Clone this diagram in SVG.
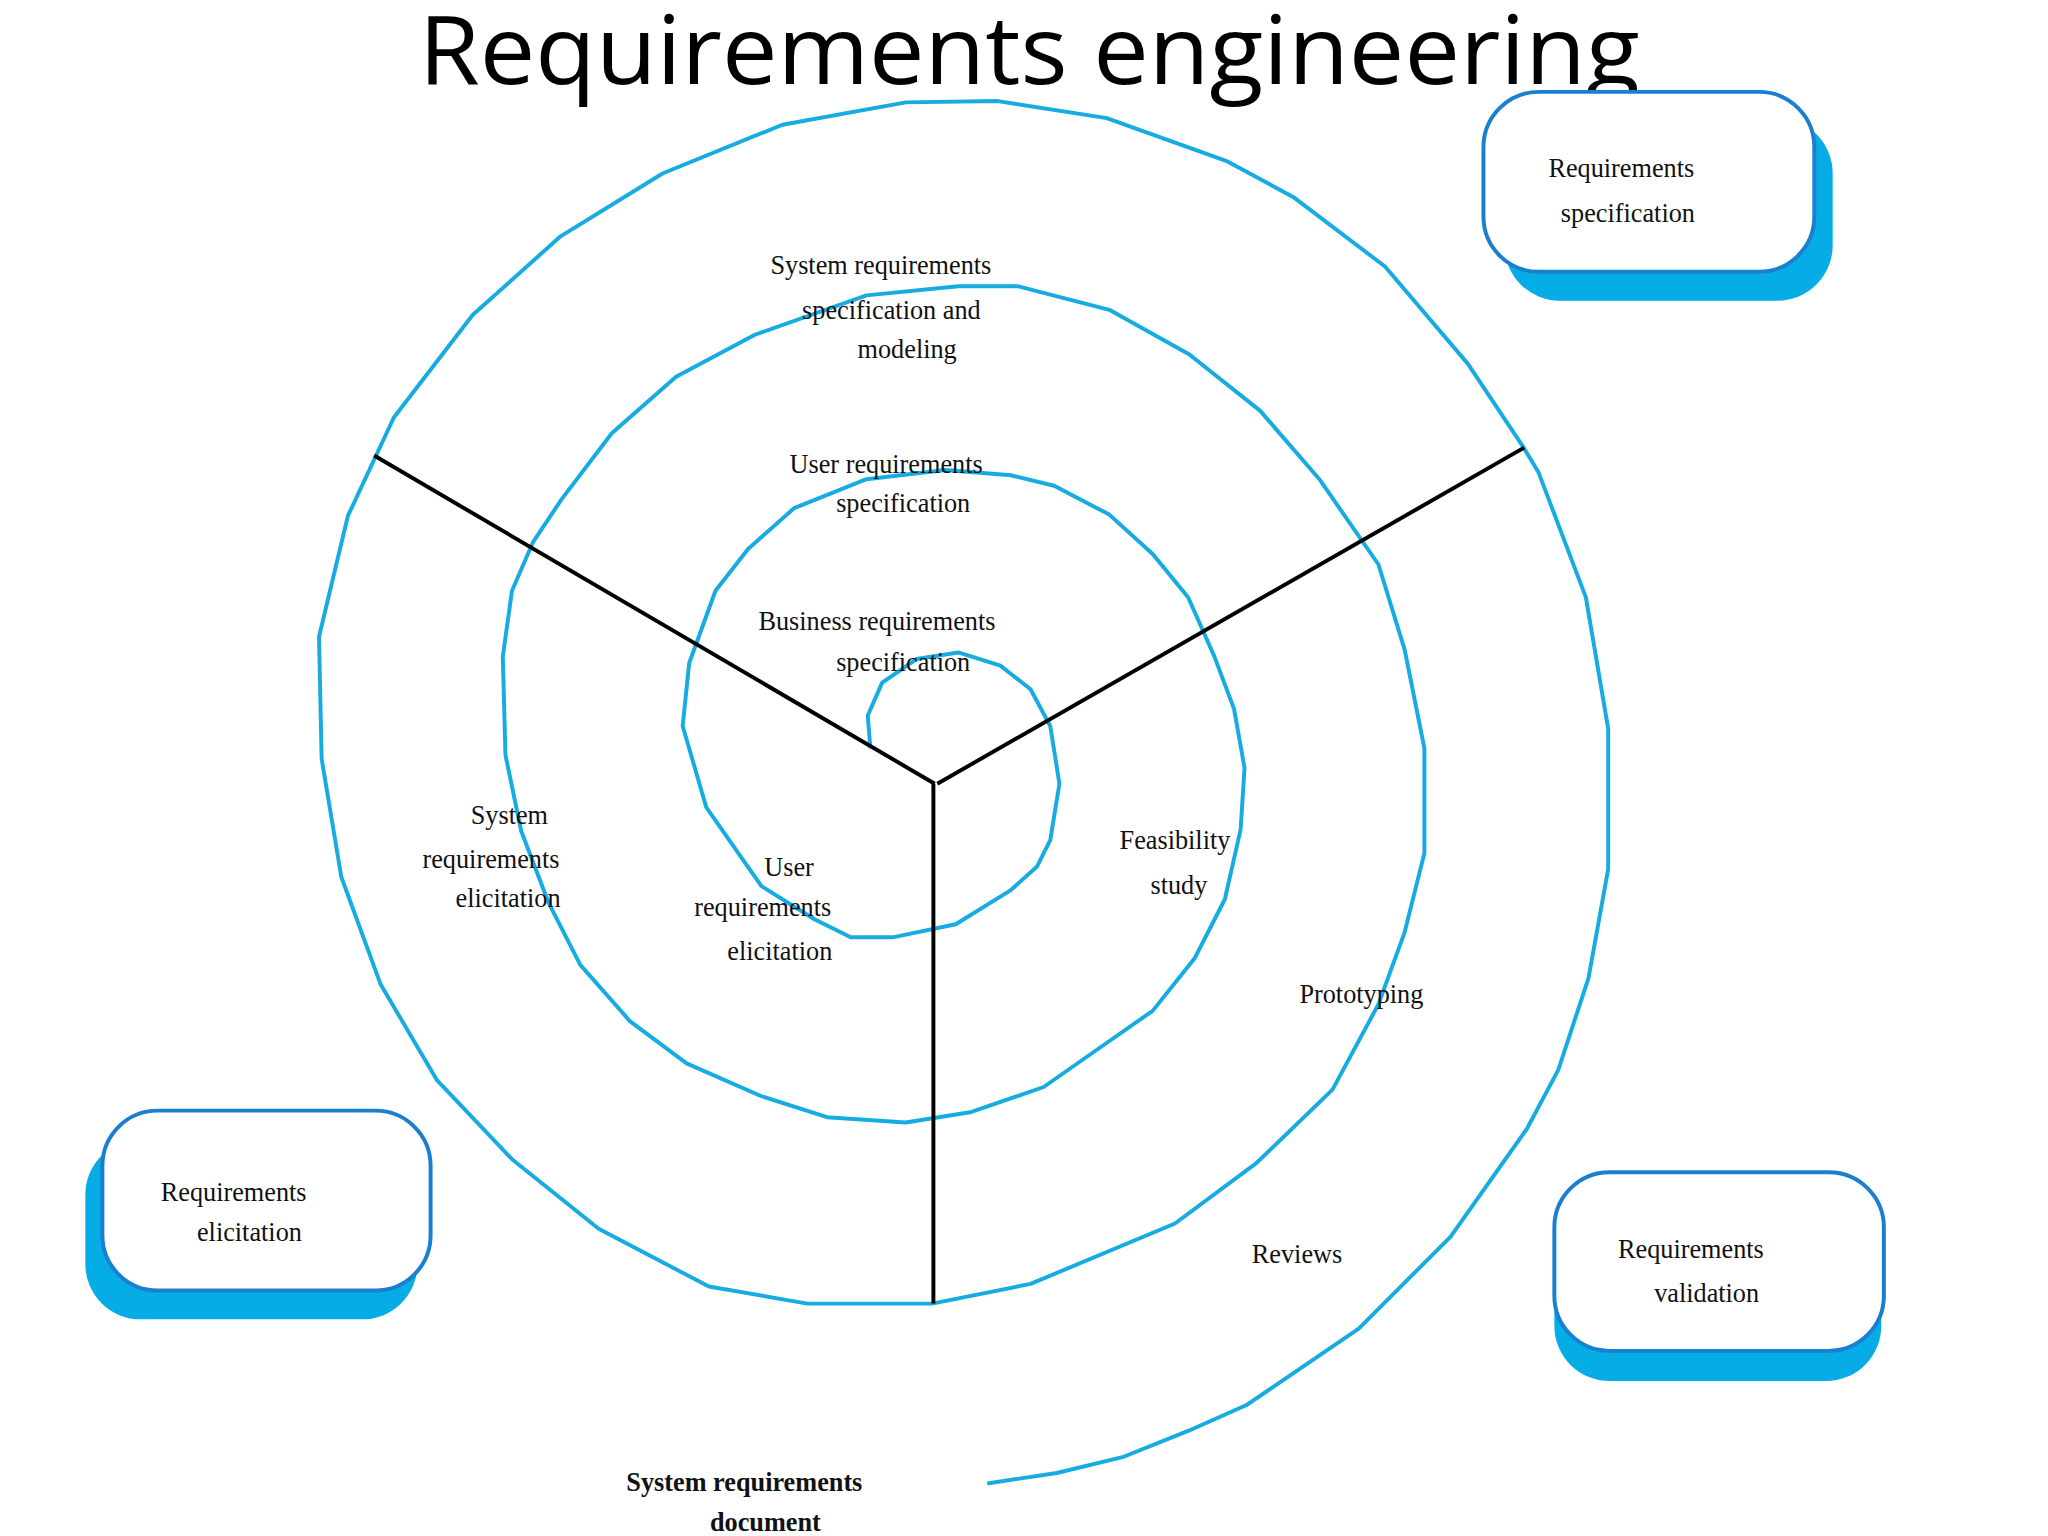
<svg xmlns="http://www.w3.org/2000/svg" width="2048" height="1536" viewBox="0 0 2048 1536">
<style>
.sp{fill:none;stroke:#16ace2;stroke-width:3;stroke-linejoin:round}
.spoke{stroke:#000;stroke-width:3}
.lb{font-family:"Liberation Serif",serif;font-size:20px;fill:#111;text-anchor:middle}
.bx{fill:#fff;stroke:#1a7fd0;stroke-width:3}
.sh{fill:#05ace6}
</style>
<rect width="2048" height="1536" fill="#fff"/>
<g transform="scale(1.3128)">
<text x="784" y="64" font-family="Open Sans, sans-serif" font-size="72" text-anchor="middle" textLength="930" lengthAdjust="spacingAndGlyphs">Requirements engineering</text>
<g id="connectors">
<path class="sp" d="M663,570 L661,545 672,520 698,502 730,497 762,507 785,525 800,553 807,597 800,640 790,660 770,678 728,704 680,714 648,714 620,700 580,675 538,615 520,553 525,505 545,450 570,418 605,387 660,365 720,358 770,362 803,370 845,392 878,422 905,455 925,500 940,540 948,585 945,632 933,685 910,730 878,770 835,800 795,828 740,847 690,855 630,851 580,835 523,810 480,778 442,735 418,688 397,633 385,575 383,500 390,450 406,413 428,380 466,330 515,287 575,255 660,225 730,218 775,218 845,236 906,270 960,313 1005,365 1050,430 1070,495 1085,570 1085,650 1070,710 1050,765 1015,830 957,886 895,932 785,978 710,993 615,993 540,980 456,936 390,883 333,823 290,750 260,668 245,578 243,485 265,393 300,318 360,240 427,180 505,132 596,95 690,78 760,77 843,90 935,123 985,150 1055,203 1118,277 1160,340 1172,360 1208,455 1225,555 1225,662 1210,745 1187,815 1163,860 1105,942 1035,1012 950,1070 905,1090 855,1110 805,1122 752,1130"/>
<line class="spoke" x1="712" y1="597" x2="285" y2="347"/>
<line class="spoke" x1="714" y1="597" x2="1161" y2="341"/>
<line class="spoke" x1="711" y1="597" x2="711" y2="993"/>
</g>
<g id="spec">
<rect class="sh" x="1146" y="90" width="250" height="139" rx="42"/>
<rect class="bx" x="1130" y="70" width="252" height="137" rx="42"/>
<text class="lb" x="1235" y="135">Requirements</text>
<text class="lb" x="1240" y="169">specification</text>
</g>
<g id="elic">
<rect class="sh" x="65" y="868" width="253" height="137" rx="42"/>
<rect class="bx" x="78" y="846" width="250" height="137" rx="42"/>
<text class="lb" x="178" y="915">Requirements</text>
<text class="lb" x="190" y="945">elicitation</text>
</g>
<g id="valid">
<rect class="sh" x="1184" y="915" width="249" height="137" rx="42"/>
<rect class="bx" x="1184" y="893" width="251" height="136" rx="42"/>
<text class="lb" x="1288" y="958">Requirements</text>
<text class="lb" x="1300" y="992">validation</text>
</g>
<g id="labels">
<text class="lb" x="671" y="209">System requirements</text>
<text class="lb" x="679" y="243">specification and</text>
<text class="lb" x="691" y="273">modeling</text>
<text class="lb" x="675" y="360">User requirements</text>
<text class="lb" x="688" y="390">specification</text>
<text class="lb" x="668" y="480">Business requirements</text>
<text class="lb" x="688" y="511">specification</text>
<text class="lb" x="388" y="628">System</text>
<text class="lb" x="374" y="661">requirements</text>
<text class="lb" x="387" y="691">elicitation</text>
<text class="lb" x="601" y="667">User</text>
<text class="lb" x="581" y="698">requirements</text>
<text class="lb" x="594" y="731">elicitation</text>
<text class="lb" x="895" y="647">Feasibility</text>
<text class="lb" x="898" y="681">study</text>
<text class="lb" x="1037" y="764">Prototyping</text>
<text class="lb" x="988" y="962">Reviews</text>
<text class="lb" x="567" y="1136" font-weight="bold">System requirements</text>
<text class="lb" x="583" y="1166" font-weight="bold">document</text>
</g>
</g>
</svg>
